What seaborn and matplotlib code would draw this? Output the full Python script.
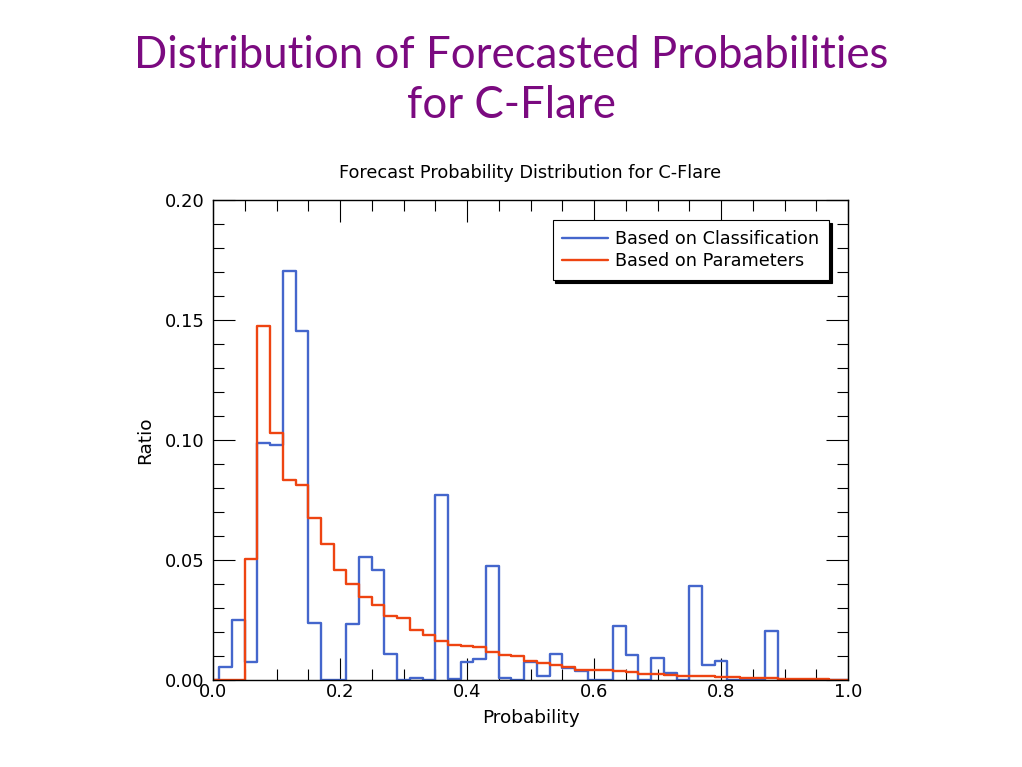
import numpy as np
import pandas as pd
import matplotlib
matplotlib.use("Agg")
import matplotlib.pyplot as plt
import seaborn as sns
from matplotlib.ticker import MultipleLocator

# ---- data ----
prob_centers = [round(0.02 * i, 2) for i in range(51)]
classification = [0, 0.0056, 0.025, 0.0074, 0.0989, 0.0979, 0.1706, 0.1456, 0.0239, 0,
                  0, 0.0233, 0.0514, 0.0458, 0.0108, 0, 0.0010, 0, 0.0771, 0.0004,
                  0.0076, 0.0086, 0.0476, 0.0010, 0, 0.0076, 0.0018, 0.0110, 0.0049, 0.0039,
                  0, 0, 0.0226, 0.0106, 0, 0.0093, 0.0030, 0, 0.0393, 0.0064,
                  0.0078, 0, 0, 0, 0.0206, 0, 0, 0, 0, 0, 0]
parameters = [0, 0, 0, 0.0504, 0.1475, 0.1031, 0.0832, 0.0812, 0.0676, 0.0568,
              0.0458, 0.0401, 0.0346, 0.0313, 0.0267, 0.0260, 0.0210, 0.0188, 0.0164, 0.0146,
              0.0142, 0.0138, 0.0117, 0.0106, 0.0100, 0.0079, 0.0071, 0.0063, 0.0053, 0.0042,
              0.0042, 0.0040, 0.0037, 0.0033, 0.0026, 0.0024, 0.0021, 0.0018, 0.0018, 0.0017,
              0.0013, 0.0011, 0.0007, 0.0007, 0.0007, 0.0005, 0.0004, 0.0003, 0.0003, 0.0002,
              0.0001]
series_names = ["Based on Classification", "Based on Parameters"]
series_colors = ["#4466CC", "#EE4411"]
x_ticks = [0.0, 0.2, 0.4, 0.6, 0.8, 1.0]
y_ticks = [0.00, 0.05, 0.10, 0.15, 0.20]

sns.set_theme(style="white")
plt.rcParams['font.family'] = ['DejaVu Sans']

fig = plt.figure(figsize=(10.22, 7.67), dpi=100)
ax = fig.add_axes([213/1022, 1-680/767, 635/1022, 480/767])

for name, vals, col in zip(series_names, [classification, parameters], series_colors):
    df = pd.DataFrame({"p": prob_centers, "r": vals})
    sns.lineplot(data=df, x="p", y="r", ax=ax, color=col, lw=1.7,
                 drawstyle="steps-mid", estimator=None, sort=False, label=name)

ax.set_xlim(0, 1)
ax.set_ylim(0, 0.2)
ax.set_xticks(x_ticks)
ax.set_xticklabels([f"{v:.1f}" for v in x_ticks])
ax.set_yticks(y_ticks)
ax.set_yticklabels([f"{v:.2f}" for v in y_ticks])
ax.xaxis.set_minor_locator(MultipleLocator(0.05))
ax.yaxis.set_minor_locator(MultipleLocator(0.01))
ax.tick_params(which="both", direction="in", top=True, right=True, bottom=True, left=True,
               color="black", width=0.8)
ax.tick_params(which="major", length=15.5, labelsize=13, labelcolor="black")
ax.tick_params(which="minor", length=8)
ax.tick_params(axis="y", which="major", pad=6)
ax.tick_params(axis="x", which="major", pad=2)
for s in ax.spines.values():
    s.set_color("black")
    s.set_linewidth(1.0)

ax.set_xlabel("Probability", fontsize=13.3, labelpad=6, color="black")
ax.set_ylabel("Ratio", fontsize=13.3, labelpad=8, color="black")
ax.set_title("Forecast Probability Distribution for C-Flare", fontsize=12.8, pad=16, color="black")

leg = ax.legend(loc="upper right", bbox_to_anchor=(0.970, 0.958), borderaxespad=0,
                frameon=True, fancybox=False, fontsize=12.7, handlelength=2.6,
                handletextpad=0.4, labelspacing=0.25, borderpad=0.55,
                shadow={'color': 'black', 'alpha': 1.0})
leg.get_frame().set_edgecolor("black")
leg.get_frame().set_linewidth(0.8)
leg.get_frame().set_alpha(1)
for t in leg.get_texts():
    t.set_color("black")

title_color = "#7B0A80"
fig.text(0.5, 1-56/767, "Distribution of Forecasted Probabilities", ha="center", va="center",
         fontsize=31.5, color=title_color, family=["Lato", "DejaVu Sans"])
fig.text(0.5, 1-106/767, "for C-Flare", ha="center", va="center",
         fontsize=31.5, color=title_color, family=["Lato", "DejaVu Sans"])

fig.savefig("out.png", dpi=100)
